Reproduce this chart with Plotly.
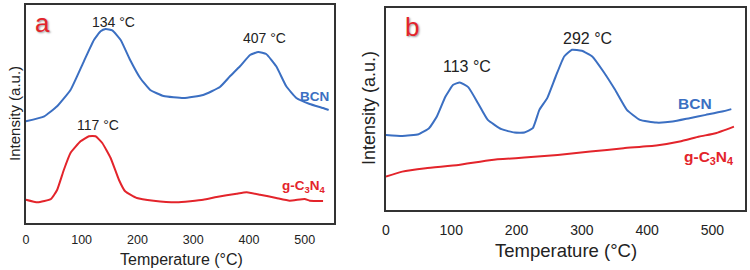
import plotly.graph_objects as go

# Panel a (temperature °C, intensity a.u.)
a_bcn_T = [0, 33, 56, 80, 104, 122, 134, 143, 155, 170, 187, 205, 223, 247, 283, 318, 348, 366, 384, 402, 417, 431, 449, 467, 485, 509, 533, 543]
a_bcn_I = [101.7, 106.7, 116.7, 133, 161.7, 183, 191.7, 194, 192.7, 183, 163, 145, 133, 127, 125, 128, 136, 146.7, 156.7, 168, 171, 169, 156.7, 136.7, 125, 119, 115, 113]
a_cn_T = [0, 21, 45, 56, 68, 80, 98, 113, 125, 137, 152, 167, 178, 199, 229, 271, 318, 342, 378, 396, 420, 449, 473, 500, 509, 533]
a_cn_I = [23.3, 20.7, 24, 33, 53, 70, 81.7, 86.7, 86.7, 80, 65, 43, 31.7, 25, 22.3, 20.7, 23.3, 26, 29.3, 30.7, 28.3, 25, 22.3, 24, 22.3, 22]

# Panel b
b_bcn_T = [0, 25, 50, 66, 78, 91, 103, 113, 126, 141, 156, 177, 197, 212, 225, 235, 247, 260, 273, 285, 300, 316, 333, 351, 369, 389, 414, 439, 465, 490, 515, 529]
b_bcn_I = [75, 74, 75.7, 81.7, 93.3, 113, 125, 127.3, 122.7, 106.7, 90, 80.7, 77.3, 77.3, 81.7, 100, 111.7, 133.3, 153.3, 160, 159, 153.3, 138.3, 120, 100, 90, 87.3, 88.3, 91.7, 95, 98.3, 100.7]
b_cn_T = [0, 25, 61, 111, 162, 212, 263, 313, 364, 414, 450, 480, 505, 533]
b_cn_I = [33.3, 38.3, 41.7, 45, 50, 52.3, 55, 58.3, 61.7, 64.3, 68.3, 73.3, 76.7, 83.3]

x_ticks = [0, 100, 200, 300, 400, 500]

BLUE = "#3b6fc2"
RED = "#e3242b"
FONT = "Liberation Sans, Arial, sans-serif"

fig = go.Figure()
line_kw = dict(width=2, shape="spline", smoothing=0.4)
fig.add_trace(go.Scatter(x=a_bcn_T, y=a_bcn_I, mode="lines", line=dict(color=BLUE, **line_kw), xaxis="x", yaxis="y"))
fig.add_trace(go.Scatter(x=a_cn_T, y=a_cn_I, mode="lines", line=dict(color=RED, **line_kw), xaxis="x", yaxis="y"))
fig.add_trace(go.Scatter(x=b_bcn_T, y=b_bcn_I, mode="lines", line=dict(color=BLUE, **line_kw), xaxis="x2", yaxis="y2"))
fig.add_trace(go.Scatter(x=b_cn_T, y=b_cn_I, mode="lines", line=dict(color=RED, **line_kw), xaxis="x2", yaxis="y2"))

W, H = 750, 270
def px(x):
    return x / W
def py(y):
    return 1 - y / H

axis_common = dict(showline=True, mirror=True, linecolor="#333333", linewidth=1.5,
                   showgrid=False, zeroline=False, ticks="")

fig.update_layout(
    width=W, height=H, margin=dict(l=0, r=0, t=0, b=0),
    paper_bgcolor="white", plot_bgcolor="white", showlegend=False,
    xaxis=dict(domain=[px(22), px(332)], range=[0, 553], tickvals=x_ticks, anchor="y",
               tickfont=dict(family=FONT, size=12.5, color="#222222"), ticklabelstandoff=4, **axis_common),
    yaxis=dict(domain=[py(223), py(5)], range=[0, 218], showticklabels=False, anchor="x", **axis_common),
    xaxis2=dict(domain=[px(384), px(745)], range=[0, 550], tickvals=x_ticks, anchor="y2",
                tickfont=dict(family=FONT, size=14, color="#222222"), ticklabelstandoff=6, **axis_common),
    yaxis2=dict(domain=[py(210), py(8)], range=[0, 201.7], showticklabels=False, anchor="x2", **axis_common),
)

def ann(text, x, y, size, color="#222222", bold=False, angle=0, shadow=None):
    f = dict(family=FONT, size=size, color=color)
    if shadow:
        f["shadow"] = shadow
    fig.add_annotation(text=("<b>%s</b>" % text) if bold else text, x=px(x), y=py(y),
                       xref="paper", yref="paper", showarrow=False, font=f,
                       textangle=angle, xanchor="center", yanchor="middle")

# axis titles
ann("Temperature (°C)", 178, 259, 16)
ann("Intensity (a.u.)", 10, 113, 15, angle=-90)
ann("Temperature (°C)", 565, 250, 18.5)
ann("Intensity (a.u.)", 367, 108, 18, angle=-90)

# peak labels
ann("134 °C", 110, 22, 14)
ann("407 °C", 262, 38, 14)
ann("117 °C", 95, 125, 14)
ann("113 °C", 465, 67, 16)
ann("292 °C", 587, 39, 16)

# series labels
ann("BCN", 312, 96, 13.5, color=BLUE, bold=True)
ann("g-C<sub>3</sub>N<sub>4</sub>", 302, 186, 13.5, color=RED, bold=True)
ann("BCN", 695, 103, 15.5, color=BLUE, bold=True)
ann("g-C<sub>3</sub>N<sub>4</sub>", 708, 157, 15.5, color=RED, bold=True)

# panel letters
ann("a", 39, 23, 26, color=RED, shadow="1px 1px 2px #999")
ann("b", 410, 27, 26, color=RED, shadow="1px 1px 2px #999")

fig.write_html("out.html", config={"displayModeBar": False},
               post_script="document.body.style.margin='0px';")
